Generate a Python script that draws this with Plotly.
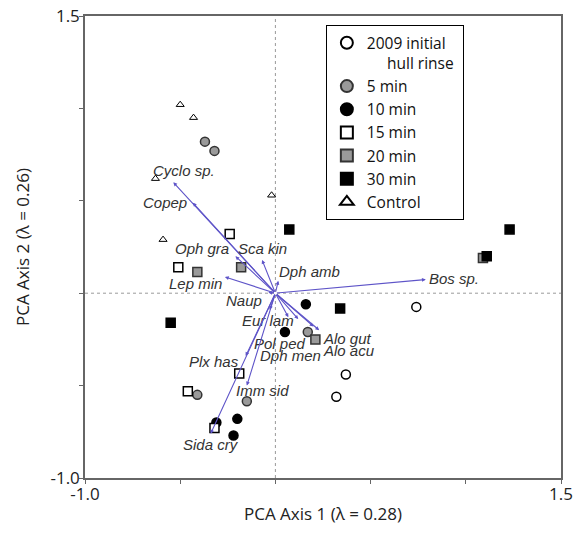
import plotly.graph_objects as go

# ---- data ----
initial_x = [0.74, 0.37, 0.32]
initial_y = [-0.074, -0.44, -0.56]
min5_x = [-0.37, -0.32, -0.41, -0.15, 0.17]
min5_y = [0.82, 0.77, -0.55, -0.585, -0.21]
min10_x = [0.16, 0.05, -0.31, -0.20, -0.22]
min10_y = [-0.06, -0.21, -0.70, -0.68, -0.77]
min15_x = [-0.24, -0.51, -0.19, -0.46, -0.32]
min15_y = [0.32, 0.14, -0.435, -0.53, -0.73]
min20_x = [-0.41, -0.18, 0.21, 1.09]
min20_y = [0.115, 0.14, -0.25, 0.19]
min30_x = [0.073, 1.23, 1.11, 0.34, -0.55]
min30_y = [0.345, 0.345, 0.20, -0.083, -0.16]
control_x = [-0.50, -0.43, -0.63, -0.02, -0.59]
control_y = [1.02, 0.95, 0.62, 0.53, 0.29]

species = ["Cyclo sp.", "Copep", "Oph gra", "Sca kin", "Dph amb", "Lep min", "Naup",
           "Bos sp.", "Eur lam", "Pol ped", "Dph men", "Alo gut", "Alo acu",
           "Plx has", "Imm sid", "Sida cry"]
arrow_x = [-0.536, -0.434, -0.21, -0.07, 0.015, -0.265, -0.037, 0.79, 0.12, 0.068,
           -0.03, 0.23, 0.20, -0.156, -0.15, -0.34]
arrow_y = [0.60, 0.49, 0.20, 0.18, 0.067, 0.088, 0.004, 0.074, -0.14, -0.13,
           -0.09, -0.20, -0.18, -0.34, -0.50, -0.76]
label_x = [-0.48, -0.58, -0.385, -0.07, 0.18, -0.42, -0.165, 0.94, -0.04, 0.024,
           0.077, 0.38, 0.386, -0.32, -0.07, -0.34]
label_y = [0.665, 0.49, 0.244, 0.244, 0.12, 0.053, -0.038, 0.08, -0.15, -0.27,
           -0.335, -0.245, -0.31, -0.37, -0.525, -0.82]

tick_vals = [-1.0, -0.5, 0.0, 0.5, 1.0, 1.5]
tick_text = ["-1.0", "", "", "", "", "1.5"]

NB = "\u00a0"
groups = [
    ("2009 initial" + NB * 3 + "<br>" + NB * 5 + "hull rinse", initial_x, initial_y, "circle", "white", 9),
    ("5 min", min5_x, min5_y, "circle", "#9a9a9a", 9),
    ("10 min", min10_x, min10_y, "circle", "black", 9),
    ("15 min", min15_x, min15_y, "square", "white", 9),
    ("20 min", min20_x, min20_y, "square", "#9a9a9a", 9),
    ("30 min", min30_x, min30_y, "square", "black", 9),
    ("Control", control_x, control_y, "triangle-up", "white", 7),
]

fig = go.Figure()
for name, xs, ys, sym, fill, sz in groups:
    fig.add_trace(go.Scatter(
        x=xs, y=ys, mode="markers", name=name,
        marker=dict(symbol=sym, color=fill, size=sz,
                    line=dict(color="black" if fill != "#9a9a9a" else "#333333",
                              width=1.5 if sym != "triangle-up" else 1)),
    ))

annotations = []
for sp, ax_, ay_, lx, ly in zip(species, arrow_x, arrow_y, label_x, label_y):
    annotations.append(dict(
        x=ax_, y=ay_, xref="x", yref="y", ax=0, ay=0, axref="x", ayref="y",
        text="", showarrow=True, arrowhead=2, arrowsize=0.7, arrowwidth=1.1,
        arrowcolor="#5e54c8", standoff=0, startstandoff=0,
    ))
    annotations.append(dict(
        x=lx, y=ly, xref="x", yref="y", text="<i>" + sp + "</i>", showarrow=False,
        font=dict(family="Liberation Sans, Arial", size=15, color="#333333"),
        xanchor="center", yanchor="middle",
    ))

shapes = [
    dict(type="line", xref="x", yref="y", x0=0, x1=0, y0=-1.0, y1=1.5,
         line=dict(color="#9a9a9a", width=1, dash="dot"), layer="below"),
    dict(type="line", xref="x", yref="y", x0=-1.0, x1=1.5, y0=0, y1=0,
         line=dict(color="#9a9a9a", width=1, dash="dot"), layer="below"),
]

axis_font = dict(family="Open Sans", size=17, color="#222222")
fig.update_layout(
    width=583, height=535,
    margin=dict(l=85, r=22, t=16, b=57),
    paper_bgcolor="white", plot_bgcolor="white",
    showlegend=True,
    legend=dict(x=0.506, y=0.98, xanchor="left", yanchor="top",
                bordercolor="black", borderwidth=1, bgcolor="white",
                font=dict(family="Open Sans", size=15.5, color="#111111"),
                itemsizing="constant", valign="top"),
    annotations=annotations, shapes=shapes,
    xaxis=dict(range=[-1.0, 1.5], tickvals=tick_vals, ticktext=tick_text,
               showgrid=False, zeroline=False, showline=True, mirror=True,
               linecolor="#666666", linewidth=1.5, ticks="outside", ticklen=4,
               tickcolor="#666666", tickfont=axis_font, automargin=False,
               ticklabelstandoff=-4, ticklabeloverflow="allow",
               title=dict(text="PCA Axis 1 (λ = 0.28)", font=axis_font, standoff=4)),
    yaxis=dict(range=[-1.0, 1.5], tickvals=tick_vals, ticktext=tick_text,
               showgrid=False, zeroline=False, showline=True, mirror=True,
               linecolor="#666666", linewidth=1.5, ticks="outside", ticklen=4,
               tickcolor="#666666", tickfont=axis_font, automargin=False,
               ticklabelstandoff=-4, ticklabeloverflow="allow",
               title=dict(text="PCA Axis 2 (λ = 0.26)", font=axis_font, standoff=17)),
)

fig.write_html("out.html", config={"displayModeBar": False},
               post_script="document.body.style.margin='0';document.body.style.padding='0';")
